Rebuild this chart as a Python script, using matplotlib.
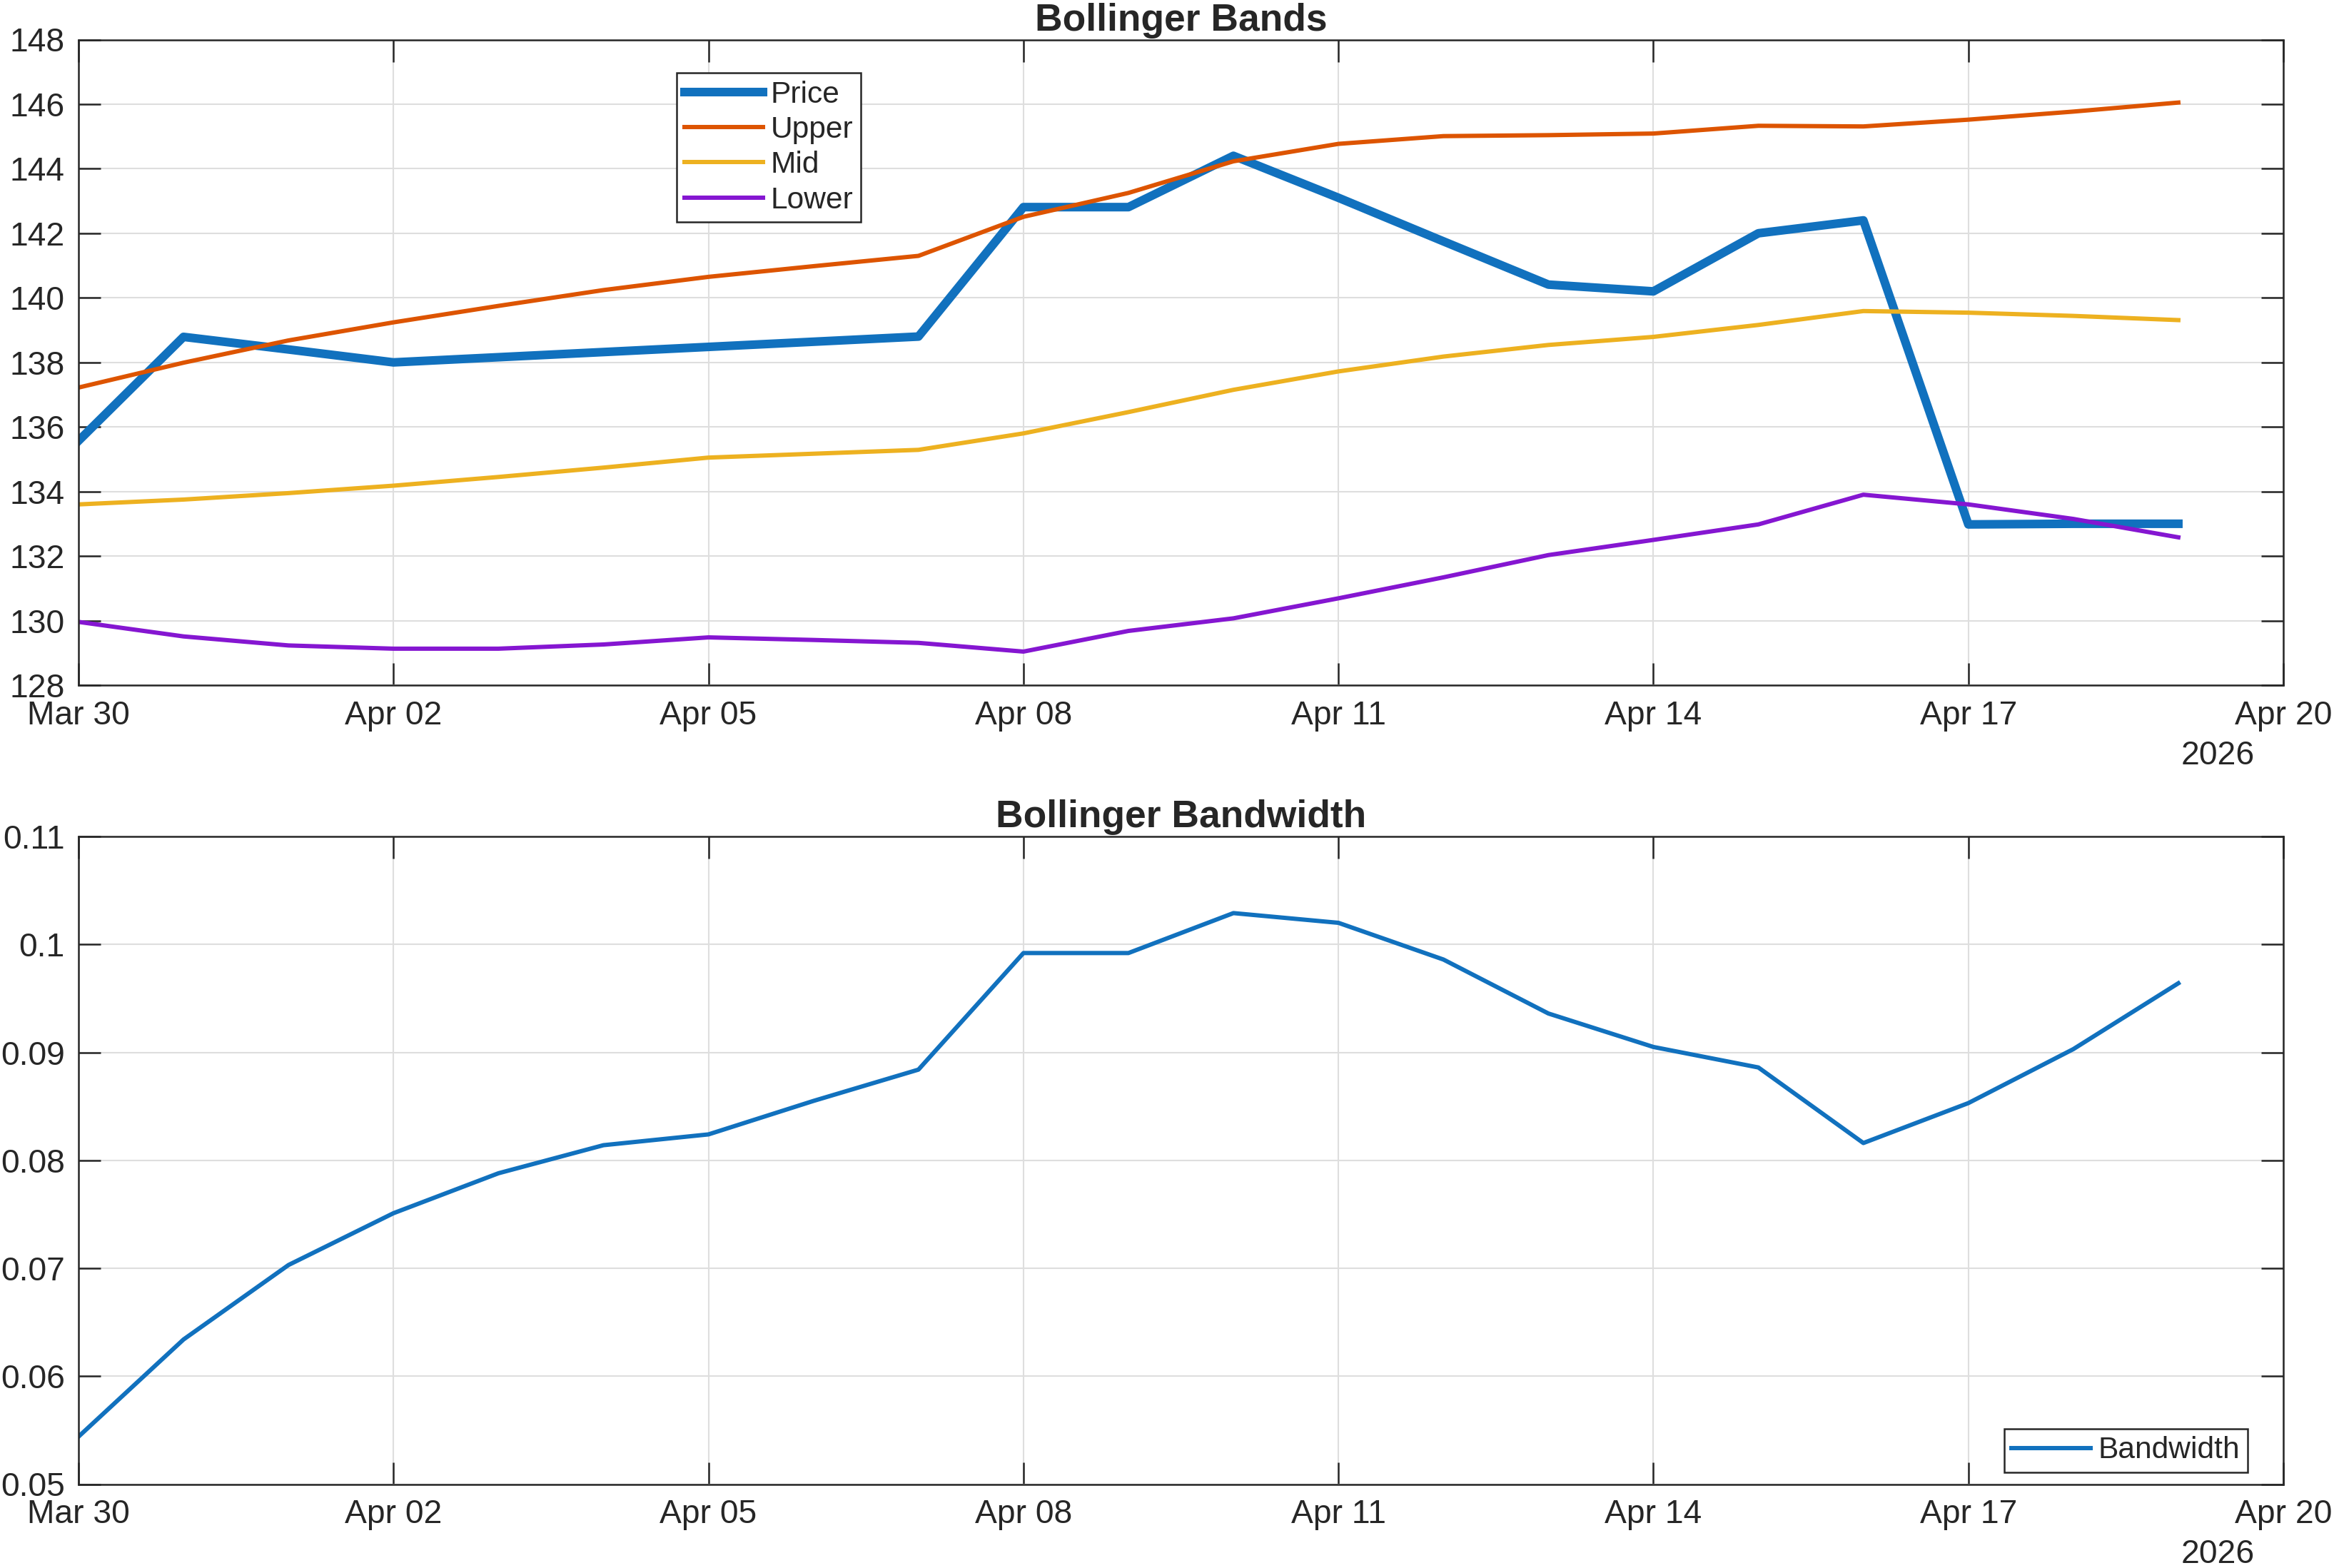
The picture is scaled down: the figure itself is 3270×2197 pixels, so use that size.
import numpy as np
import pandas as pd
import matplotlib
matplotlib.use("Agg")
import matplotlib.pyplot as plt
import matplotlib.dates as mdates
from matplotlib.ticker import FuncFormatter

plt.rcParams['font.family'] = ['Liberation Sans', 'DejaVu Sans']

# data (daily, Mar 30 .. Apr 19 2026)
dates = pd.date_range("2026-03-30", "2026-04-19", freq="D")
price = [135.57, 138.79, 138.40, 138.00, 138.16, 138.32, 138.48, 138.64, 138.80,
         142.81, 142.81, 144.40, 143.10, 141.75, 140.41, 140.20, 142.00, 142.40,
         132.98, 133.00, 133.00]
upper = [137.22, 137.99, 138.68, 139.24, 139.75, 140.24, 140.65, 140.98, 141.30,
         142.51, 143.25, 144.23, 144.77, 145.01, 145.04, 145.09, 145.33, 145.31,
         145.52, 145.77, 146.05]
mid = [133.60, 133.75, 133.95, 134.18, 134.45, 134.74, 135.05, 135.17, 135.29,
       135.80, 136.46, 137.15, 137.72, 138.18, 138.54, 138.79, 139.16, 139.59,
       139.54, 139.44, 139.31]
lower = [129.96, 129.51, 129.23, 129.13, 129.13, 129.26, 129.48, 129.40, 129.31,
         129.04, 129.68, 130.07, 130.69, 131.34, 132.03, 132.50, 132.98, 133.90,
         133.60, 133.15, 132.58]
bandwidth = [0.0544, 0.0634, 0.0703, 0.0751, 0.0788, 0.0814, 0.0824, 0.0855, 0.0884,
             0.0992, 0.0992, 0.1029, 0.1020, 0.0986, 0.0936, 0.0905, 0.0886, 0.0816,
             0.0853, 0.0903, 0.0964]

c_blue = "#1171BE"
c_orange = "#DD5400"
c_yellow = "#EDB120"
c_purple = "#8516D1"
dark = "#262626"

W, H = 3270, 2197
fig = plt.figure(figsize=(W / 300, H / 300), dpi=300)

ax1 = fig.add_axes([110 / W, 1 - 960 / H, (3199 - 110) / W, (960 - 55.5) / H])
ax2 = fig.add_axes([110 / W, 1 - 2079.5 / H, (3199 - 110) / W, (2079.5 - 1172) / H])

xmin = pd.Timestamp("2026-03-30")
xmax = pd.Timestamp("2026-04-20")
xt = pd.date_range("2026-03-30", "2026-04-20", freq="3D")


def style(ax, title, year_y):
    ax.set_xlim(xmin, xmax)
    ax.set_xticks(xt)
    ax.xaxis.set_major_formatter(mdates.DateFormatter("%b %d"))
    ax.grid(True, color="#DEDEDE", linewidth=0.5)
    ax.set_axisbelow(True)
    ax.tick_params(direction="in", length=7.4, width=0.6, color=dark,
                   labelcolor=dark, labelsize=11.1, top=True, right=True)
    ax.tick_params(axis="x", pad=5)
    ax.tick_params(axis="y", pad=4.6)
    for s in ax.spines.values():
        s.set_color(dark)
        s.set_linewidth(0.6)
    ax.set_title(title, fontsize=12.8, fontweight="bold", color=dark, pad=3)
    fig.text(3107 / W, 1 - year_y / H, "2026", fontsize=11.1,
             color=dark, ha="center", va="center")


def legend(ax, **kw):
    leg = ax.legend(bbox_transform=fig.transFigure, fontsize=10.2, frameon=True,
                    fancybox=False, framealpha=1, edgecolor=dark, borderpad=0.25,
                    handlelength=2.6, handletextpad=0.25, borderaxespad=0, **kw)
    leg.get_frame().set_linewidth(0.6)
    for t in leg.get_texts():
        t.set_color(dark)
    return leg


ax1.plot(dates, price, color=c_blue, lw=2.9, label="Price")
ax1.plot(dates, upper, color=c_orange, lw=1.45, label="Upper")
ax1.plot(dates, mid, color=c_yellow, lw=1.45, label="Mid")
ax1.plot(dates, lower, color=c_purple, lw=1.45, label="Lower")
ax1.set_ylim(128, 148)
ax1.set_yticks(np.arange(128, 149, 2))
style(ax1, "Bollinger Bands", 1059)
legend(ax1, loc="upper left", bbox_to_anchor=(948 / W, 1 - 102 / H),
       labelspacing=0.22)

ax2.plot(dates, bandwidth, color=c_blue, lw=1.45, label="Bandwidth")
ax2.set_ylim(0.05, 0.11)
ax2.set_yticks([0.05, 0.06, 0.07, 0.08, 0.09, 0.1, 0.11])
ax2.yaxis.set_major_formatter(FuncFormatter(lambda v, p: f"{v:g}"))
style(ax2, "Bollinger Bandwidth", 2178)
legend(ax2, loc="lower right", bbox_to_anchor=(3148.5 / W, 1 - 2063 / H))

fig.savefig("out.png", dpi=300)
